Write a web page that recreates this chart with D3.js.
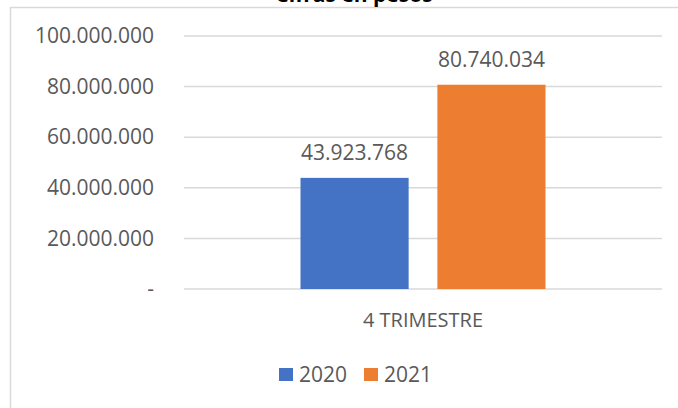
<!DOCTYPE html>
<html>
<head>
<meta charset="utf-8">
<script src="https://cdn.jsdelivr.net/npm/d3@7"></script>
<style>
  body { margin: 0; background: #fff; }
  text { font-family: "Open Sans", "Liberation Sans", sans-serif; fill: #595959; }
</style>
</head>
<body>
<div id="chart"></div>
<script>
// data
var categories = ["4 TRIMESTRE"];
var series = ["2020", "2021"];
var values = [43923768, 80740034];
var colors = ["#4472C4", "#ED7D31"];
var tickValues = [0, 20000000, 40000000, 60000000, 80000000, 100000000];
var title = "Cifras en pesos";

var width = 678, height = 408;
var margin = {top: 36, right: 16, bottom: 119, left: 184};

var svg = d3.select("#chart").append("svg")
    .attr("width", width)
    .attr("height", height);

// outer chart border (runs off the right and bottom of the picture)
svg.append("rect")
    .attr("x", 10.5).attr("y", 7.5)
    .attr("width", 720).attr("height", 430)
    .attr("fill", "none")
    .attr("stroke", "#d9d9d9")
    .attr("stroke-width", 1.5);

// title, mostly cut off at the top like in the original
svg.append("text")
    .attr("x", 354).attr("y", 2)
    .attr("text-anchor", "middle")
    .style("font-size", "21px")
    .style("font-weight", "bold")
    .style("fill", "#000")
    .text(title);

var loc = d3.formatLocale({decimal: ",", thousands: ".", grouping: [3], currency: ["$", ""]});
var fmt = loc.format(",.0f");

var x0 = d3.scaleBand()
    .domain(categories)
    .range([margin.left, width - margin.right]);

var x1 = d3.scaleBand()
    .domain(series)
    .range([0, 245])
    .paddingInner(0.21);

var y = d3.scaleLinear()
    .domain([0, 100000000])
    .range([height - margin.bottom, margin.top]);

// gridlines
svg.append("g")
    .selectAll("line")
    .data(tickValues)
    .enter()
    .append("line")
        .attr("x1", margin.left)
        .attr("x2", width - margin.right)
        .attr("y1", function(d) { return y(d); })
        .attr("y2", function(d) { return y(d); })
        .attr("stroke", "#d9d9d9")
        .attr("stroke-width", 1.5);

// y axis labels
var yAxis = d3.axisLeft(y)
    .tickValues(tickValues)
    .tickSize(0)
    .tickPadding(0)
    .tickFormat(function(d) { return d === 0 ? "-" : fmt(d); });
var yg = svg.append("g")
    .attr("transform", "translate(154,0)")
    .call(yAxis);
yg.select(".domain").remove();
yg.selectAll("text")
    .style("font-size", "21px")
    .style("font-family", null)
    .attr("fill", null);

// bars
var groupX = x0(categories[0]) + x0.bandwidth() / 2 - 122.5;
var bars = svg.append("g")
    .attr("transform", "translate(" + groupX + ",0)");

bars.selectAll("rect")
    .data(values)
    .enter()
    .append("rect")
        .attr("x", function(d, i) { return x1(series[i]); })
        .attr("y", function(d) { return y(d); })
        .attr("width", x1.bandwidth())
        .attr("height", function(d) { return y(0) - y(d); })
        .attr("fill", function(d, i) { return colors[i]; });

bars.selectAll(".label")
    .data(values)
    .enter()
    .append("text")
        .attr("class", "label")
        .attr("x", function(d, i) { return x1(series[i]) + x1.bandwidth() / 2; })
        .attr("y", function(d) { return y(d) - 18; })
        .attr("text-anchor", "middle")
        .style("font-size", "21px")
        .text(function(d) { return fmt(d); });

// category label
var xAxis = d3.axisBottom(x0).tickSize(0).tickPadding(0);
var xg = svg.append("g")
    .attr("transform", "translate(0," + (y(0) + 38) + ")")
    .call(xAxis);
xg.select(".domain").remove();
xg.selectAll("text")
    .attr("dy", 0)
    .style("font-size", "20px")
    .style("font-family", null)
    .attr("fill", null);

// legend
var legendX = [279, 364];
var legend = svg.append("g");
var items = legend.selectAll("g")
    .data(series)
    .enter()
    .append("g")
        .attr("transform", function(d, i) { return "translate(" + legendX[i] + ",368)"; });
items.append("rect")
    .attr("width", 14).attr("height", 13)
    .attr("fill", function(d, i) { return colors[i]; });
items.append("text")
    .attr("x", 20).attr("y", 13.5)
    .style("font-size", "21px")
    .text(function(d) { return d; });
</script>
</body>
</html>
